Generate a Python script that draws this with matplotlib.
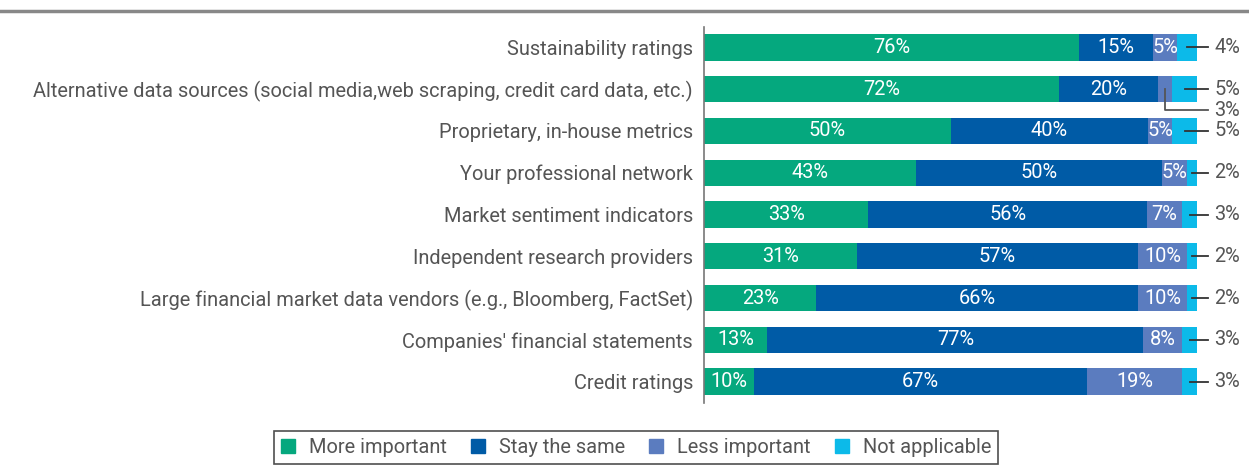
import matplotlib
matplotlib.use("Agg")
import matplotlib.pyplot as plt
from matplotlib.lines import Line2D
import numpy as np

plt.rcParams['font.family'] = ['Roboto', 'DejaVu Sans']

categories = [
    "Sustainability ratings",
    "Alternative data sources (social media,web scraping, credit card data, etc.)",
    "Proprietary, in-house metrics",
    "Your professional network",
    "Market sentiment indicators",
    "Independent research providers",
    "Large financial market data vendors (e.g., Bloomberg, FactSet)",
    "Companies' financial statements",
    "Credit ratings",
]
more_important = [76, 72, 50, 43, 33, 31, 23, 13, 10]
stay_same      = [15, 20, 40, 50, 56, 57, 66, 77, 67]
less_important = [5, 3, 5, 5, 7, 10, 10, 8, 19]
not_applicable = [4, 5, 5, 2, 3, 2, 2, 3, 3]
series_names = ["More important", "Stay the same", "Less important", "Not applicable"]
colors = ["#05A87E", "#005BA6", "#5B7CBF", "#0CBAE9"]

W, H = 1249, 472
fig = plt.figure(figsize=(W / 100, H / 100), dpi=100)
ax = fig.add_axes([704 / W, 1 - 402.5 / H, (1197 - 704) / W, 376 / H])

data = np.array([more_important, stay_same, less_important, not_applicable], dtype=float)
totals = data.sum(axis=0)
norm = data / totals * 100
y = np.arange(len(categories))
bh = 0.63
lefts = np.zeros(len(categories))
starts = []
for k in range(4):
    ax.barh(y, norm[k], left=lefts, height=bh, color=colors[k], edgecolor='none')
    starts.append(lefts.copy())
    lefts = lefts + norm[k]

fs = 14.4
txt_gray = "#555555"
for i in range(len(categories)):
    for k in range(3):
        v = data[k][i]
        if k == 2 and i == 1:
            continue
        cx = starts[k][i] + norm[k][i] / 2
        ax.text(cx, i, f"{int(v)}%", ha='center', va='center', color='white', fontsize=fs)
    cx = starts[3][i] + norm[3][i] / 2
    ax.plot([cx, 102.2], [i, i], color='#333333', lw=1.3, clip_on=False)
    ax.text(103.5, i, f"{int(data[3][i])}%", ha='left', va='center', color=txt_gray, fontsize=fs, clip_on=False)

i = 1
cx = starts[2][i] + norm[2][i] / 2
ax.plot([cx, cx, 102.2], [i, i + 0.5, i + 0.5], color='#555555', lw=1.3, clip_on=False)
ax.text(103.5, i + 0.5, f"{int(data[2][i])}%", ha='left', va='center', color=txt_gray, fontsize=fs, clip_on=False)

ax.set_xlim(0, 100)
ax.set_ylim(len(categories) - 0.5, -0.5)
ax.set_yticks(y)
ax.set_yticklabels(categories, fontsize=fs, color=txt_gray)
ax.tick_params(axis='y', length=0, pad=8)
ax.set_xticks([])
for s in ['top', 'right', 'bottom']:
    ax.spines[s].set_visible(False)
ax.spines['left'].set_color('#777777')
ax.spines['left'].set_linewidth(1.2)

fig.add_artist(Line2D([0, 1], [1 - 11 / H, 1 - 11 / H], color='#888888', lw=2.5))

handles = [plt.Rectangle((0, 0), 1, 1, color=c) for c in colors]
leg = fig.legend(handles, series_names, loc='center', bbox_to_anchor=(636 / W, 1 - 447.5 / H),
                 ncol=4, frameon=True, fancybox=False, fontsize=fs, handlelength=0.7, handleheight=0.7,
                 columnspacing=1.2, handletextpad=0.7, borderpad=0.35)
leg.get_frame().set_edgecolor('#222222')
leg.get_frame().set_linewidth(1.2)
for t in leg.get_texts():
    t.set_color(txt_gray)

fig.savefig("out.png", dpi=100)
